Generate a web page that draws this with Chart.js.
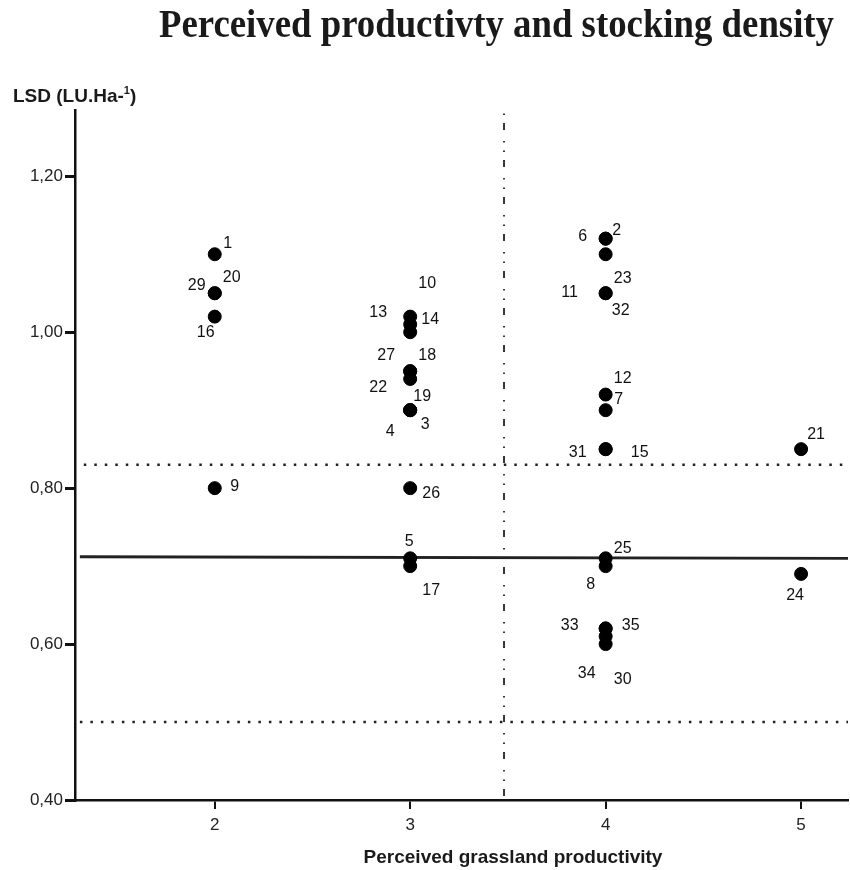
<!DOCTYPE html>
<html>
<head>
<meta charset="utf-8">
<script src="https://cdn.jsdelivr.net/npm/chart.js@4/dist/chart.umd.min.js"></script>
<style>
  html, body { margin: 0; padding: 0; background: #fff; }
  canvas { display: block; }
</style>
</head>
<body>
<canvas id="chart" width="850" height="870"></canvas>
<script>
// cases (farm numbers), perceived productivity score and stocking density
const caseIds = [1, 2, 3, 4, 5, 6, 7, 8, 9, 10, 11, 12, 13, 14, 15, 16, 17, 18,
                 19, 20, 21, 22, 23, 24, 25, 26, 27, 29, 30, 31, 32, 33, 34, 35];
const productivity = [2, 4, 3, 3, 3, 4, 4, 4, 2, 3, 4, 4, 3, 3, 4, 2, 3, 3,
                      3, 2, 5, 3, 4, 5, 4, 3, 3, 2, 4, 4, 4, 4, 4, 4];
const lsd = [1.10, 1.12, 0.90, 0.90, 0.71, 1.12, 0.90, 0.70, 0.80, 1.02, 1.05, 0.92, 1.00, 1.01, 0.85, 1.02, 0.70, 0.95,
             0.90, 1.05, 0.85, 0.94, 1.10, 0.69, 0.71, 0.80, 0.95, 1.05, 0.60, 0.85, 1.05, 0.62, 0.61, 0.62];

const xTicks = [2, 3, 4, 5];
const yTicks = [0.40, 0.60, 0.80, 1.00, 1.20];

// reference lines
const upperLimit = 0.83;
const lowerLimit = 0.50;
const fitLineX = [1.31, 5.24];
const fitLineY = [0.712, 0.710];
const splitX = 3.48;

// label offsets (px) for the case numbers, same order as caseIds
const labelDx = [13, 11, 15, -20, -1, -23, 13, -15, 20, 17, -36, 17, -32, 20, 34, -9, 21, 17,
                 12, 17, 15, -32, 17, -6, 17, 21, -24, -18, 17, -28, 15, -36, -19, 25];
const labelDy = [-11, -8, 14, 21, -17, -2, -11, 18, -2, -33, -1, -16, -20, -5, 3, 16, 24, -16,
                 -14, -16, -15, 9, 24, 22, -10, 5, -16, -8, 36, 3, 17, -3, 37, -3];

const xMin = 1.285, xMax = 5.24, yMin = 0.40, yMax = 1.285;

const points = caseIds.map((id, i) => ({ x: productivity[i], y: lsd[i] }));

const textPlugin = {
    id: 'texts',
    afterDatasetsDraw(chart) {
        const ctx = chart.ctx;
        const meta = chart.getDatasetMeta(0);
        ctx.save();
        ctx.fillStyle = '#111';
        ctx.font = '16px "Liberation Sans", Arial, sans-serif';
        ctx.textAlign = 'center';
        ctx.textBaseline = 'middle';
        meta.data.forEach((el, i) => {
            ctx.fillText(String(caseIds[i]), el.x + labelDx[i], el.y + labelDy[i]);
        });
        ctx.restore();
    },
    afterDraw(chart) {
        const ctx = chart.ctx;
        const area = chart.chartArea;
        ctx.save();
        ctx.fillStyle = '#1a1a1a';

        // main title, squeezed a bit like the original
        const title = 'Perceived productivty and stocking density';
        ctx.font = 'bold 41px "Liberation Serif", "Times New Roman", serif';
        ctx.textBaseline = 'alphabetic';
        ctx.textAlign = 'left';
        const w = ctx.measureText(title).width;
        const sx = 675 / w;
        ctx.save();
        ctx.translate(159, 37);
        ctx.scale(sx, 1);
        ctx.fillText(title, 0, 0);
        ctx.restore();

        // y axis title with superscript
        ctx.font = 'bold 19px "Liberation Sans", Arial, sans-serif';
        ctx.textBaseline = 'alphabetic';
        let x = 13, y = 102;
        const part1 = 'LSD (LU.Ha-';
        ctx.fillText(part1, x, y);
        x += ctx.measureText(part1).width;
        ctx.font = 'bold 11px "Liberation Sans", Arial, sans-serif';
        ctx.fillText('1', x, y - 8);
        x += ctx.measureText('1').width;
        ctx.font = 'bold 19px "Liberation Sans", Arial, sans-serif';
        ctx.fillText(')', x, y);

        // x axis title
        ctx.textAlign = 'center';
        ctx.textBaseline = 'middle';
        ctx.fillText('Perceived grassland productivity', 513, area.bottom + 58);
        ctx.restore();
    }
};

function renderChart() {
    const ctx = document.getElementById('chart').getContext('2d');
    new Chart(ctx, {
        type: 'scatter',
        data: {
            datasets: [
                {
                    label: 'cases',
                    data: points,
                    backgroundColor: '#000',
                    borderColor: '#000',
                    pointRadius: 6.5,
                    pointHoverRadius: 6.5,
                    order: 0
                },
                {
                    type: 'line',
                    label: 'fit',
                    data: fitLineX.map((v, i) => ({ x: v, y: fitLineY[i] })),
                    borderColor: '#222',
                    borderWidth: 2.8,
                    pointRadius: 0,
                    order: 1
                },
                {
                    type: 'line',
                    label: 'upper',
                    data: [{ x: 1.33, y: upperLimit }, { x: xMax, y: upperLimit }],
                    borderColor: '#222',
                    borderWidth: 2.5,
                    borderDash: [2.5, 8],
                    pointRadius: 0,
                    order: 1
                },
                {
                    type: 'line',
                    label: 'lower',
                    data: [{ x: 1.31, y: lowerLimit }, { x: xMax, y: lowerLimit }],
                    borderColor: '#222',
                    borderWidth: 2.5,
                    borderDash: [2.5, 8],
                    pointRadius: 0,
                    order: 1
                },
                {
                    type: 'line',
                    label: 'split',
                    data: [{ x: splitX, y: 0.405 }, { x: splitX, y: yMax }],
                    borderColor: '#222',
                    borderWidth: 1.8,
                    borderDash: [7, 8, 1.5, 8, 1.5, 11],
                    pointRadius: 0,
                    order: 1
                }
            ]
        },
        options: {
            responsive: false,
            animation: false,
            layout: { autoPadding: false, padding: { top: 110, right: 2, left: 0, bottom: 0 } },
            plugins: {
                legend: { display: false },
                tooltip: { enabled: false },
                title: { display: false }
            },
            scales: {
                x: {
                    type: 'linear',
                    min: xMin,
                    max: xMax,
                    afterBuildTicks: s => { s.ticks = xTicks.map(v => ({ value: v })); },
                    afterFit: s => { s.height = 70; },
                    grid: { drawOnChartArea: false, drawTicks: true, tickLength: 9, color: '#111', lineWidth: 2 },
                    border: { display: true, color: '#111', width: 2.5 },
                    ticks: {
                        color: '#222',
                        padding: 6,
                        font: { family: '"Liberation Sans", Arial, sans-serif', size: 17 },
                        callback: v => String(v)
                    }
                },
                y: {
                    type: 'linear',
                    min: yMin,
                    max: yMax,
                    afterBuildTicks: s => { s.ticks = yTicks.map(v => ({ value: v })); },
                    afterFit: s => { s.width = 75; },
                    grid: { drawOnChartArea: false, drawTicks: true, tickLength: 10, color: '#111', lineWidth: 3 },
                    border: { display: true, color: '#111', width: 2.5 },
                    ticks: {
                        color: '#222',
                        padding: 2,
                        font: { family: '"Liberation Sans", Arial, sans-serif', size: 17 },
                        callback: v => v.toFixed(2).replace('.', ',')
                    }
                }
            }
        },
        plugins: [textPlugin]
    });
}
renderChart();
</script>
</body>
</html>
